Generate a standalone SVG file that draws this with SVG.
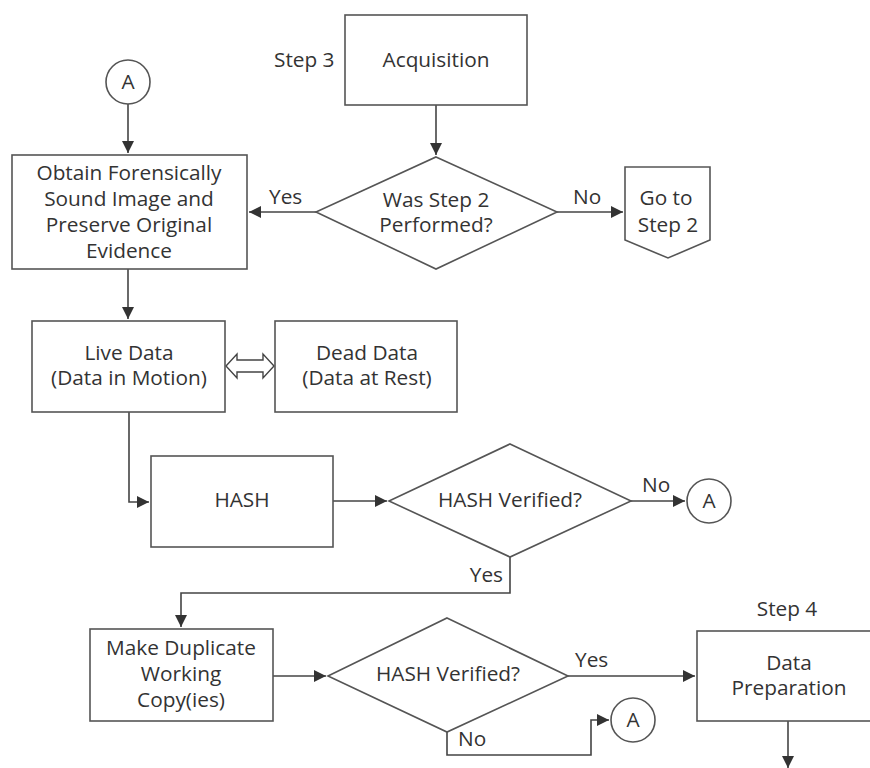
<svg xmlns="http://www.w3.org/2000/svg" width="870" height="768" viewBox="0 0 870 768">
<defs>
<marker id="ah" markerUnits="userSpaceOnUse" markerWidth="12" markerHeight="12" viewBox="0 0 12 12" refX="12" refY="6" orient="auto">
<path d="M0,0 L12,6 L0,12 Z" fill="#333"/>
</marker>
<style>
.box{fill:#fff;stroke:#555;stroke-width:1.6}
.ln{fill:none;stroke:#444;stroke-width:1.6}
.t{font-family:"Open Sans","Liberation Sans",sans-serif;font-size:20.8px;fill:#333;text-anchor:middle}
.l{font-family:"Open Sans","Liberation Sans",sans-serif;font-size:20.8px;fill:#333}
</style>
</defs>
<rect width="870" height="768" fill="#fff"/>

<g id="connectors">
<path class="ln" d="M128,104 V153" marker-end="url(#ah)"/>
<path class="ln" d="M436,105 V155" marker-end="url(#ah)"/>
<path class="ln" d="M316,212 H249" marker-end="url(#ah)"/>
<path class="ln" d="M557,212 H623" marker-end="url(#ah)"/>
<path class="ln" d="M128,269 V319" marker-end="url(#ah)"/>
<path class="ln" d="M129,412 V502 H149" marker-end="url(#ah)"/>
<path class="ln" d="M333,501 H387" marker-end="url(#ah)"/>
<path class="ln" d="M631,501 H685" marker-end="url(#ah)"/>
<path class="ln" d="M510,557 V593 H181 V627" marker-end="url(#ah)"/>
<path class="ln" d="M273,676 H326" marker-end="url(#ah)"/>
<path class="ln" d="M568,676 H695" marker-end="url(#ah)"/>
<path class="ln" d="M447,732 V755 H591 V720 H609" marker-end="url(#ah)"/>
<path class="ln" d="M788,721 V768" marker-end="url(#ah)"/>
<path d="M226,366 L237,354 V360 H263 V354 L274,366 L263,378 V372 H237 V378 Z" fill="#fff" stroke="#444" stroke-width="1.4"/>
<text class="l" x="269" y="204">Yes</text>
<text class="l" x="573" y="204">No</text>
<text class="l" x="642" y="492">No</text>
<text class="l" x="503" y="582" text-anchor="end">Yes</text>
<text class="l" x="575" y="667">Yes</text>
<text class="l" x="458" y="746">No</text>
</g>

<g id="step3-label"><text class="l" x="274" y="67">Step 3</text></g>
<g id="acquisition">
<rect class="box" x="345" y="15" width="182" height="90"/>
<text class="t" x="436" y="67">Acquisition</text>
</g>
<g id="connector-a-top">
<circle class="box" cx="128" cy="82" r="22"/>
<text class="t" x="128" y="89">A</text>
</g>
<g id="obtain">
<rect class="box" x="12" y="155" width="235" height="114"/>
<text class="t" x="129" y="180">Obtain Forensically</text>
<text class="t" x="129" y="206">Sound Image and</text>
<text class="t" x="129" y="232">Preserve Original</text>
<text class="t" x="129" y="258">Evidence</text>
</g>
<g id="step2-decision">
<polygon class="box" points="436,157 557,212 436,269 316,212"/>
<text class="t" x="436" y="207">Was Step 2</text>
<text class="t" x="436" y="232">Performed?</text>
</g>
<g id="goto-step2">
<polygon class="box" points="625,167 710,167 710,240 668,258 625,240"/>
<text class="t" x="666" y="205">Go to</text>
<text class="t" x="668" y="232">Step 2</text>
</g>
<g id="live-data">
<rect class="box" x="32" y="321" width="193" height="91"/>
<text class="t" x="129" y="360">Live Data</text>
<text class="t" x="129" y="385">(Data in Motion)</text>
</g>
<g id="dead-data">
<rect class="box" x="275" y="321" width="182" height="91"/>
<text class="t" x="367" y="360">Dead Data</text>
<text class="t" x="367" y="385">(Data at Rest)</text>
</g>
<g id="hash">
<rect class="box" x="151" y="456" width="182" height="91"/>
<text class="t" x="242" y="507">HASH</text>
</g>
<g id="hash-verified-1">
<polygon class="box" points="510,444 631,501 510,557 389,501"/>
<text class="t" x="510" y="507">HASH Verified?</text>
</g>
<g id="connector-a-mid">
<circle class="box" cx="709" cy="501" r="22"/>
<text class="t" x="709" y="508">A</text>
</g>
<g id="make-duplicate">
<rect class="box" x="90" y="629" width="183" height="92"/>
<text class="t" x="181" y="655">Make Duplicate</text>
<text class="t" x="181" y="681">Working</text>
<text class="t" x="181" y="707">Copy(ies)</text>
</g>
<g id="hash-verified-2">
<polygon class="box" points="447,618 568,676 447,732 328,676"/>
<text class="t" x="448" y="681">HASH Verified?</text>
</g>
<g id="connector-a-bottom">
<circle class="box" cx="633" cy="720" r="22"/>
<text class="t" x="633" y="727">A</text>
</g>
<g id="step4-label"><text class="t" x="787" y="616">Step 4</text></g>
<g id="data-preparation">
<rect class="box" x="697" y="631" width="190" height="90"/>
<text class="t" x="789" y="670">Data</text>
<text class="t" x="789" y="695">Preparation</text>
</g>
</svg>
